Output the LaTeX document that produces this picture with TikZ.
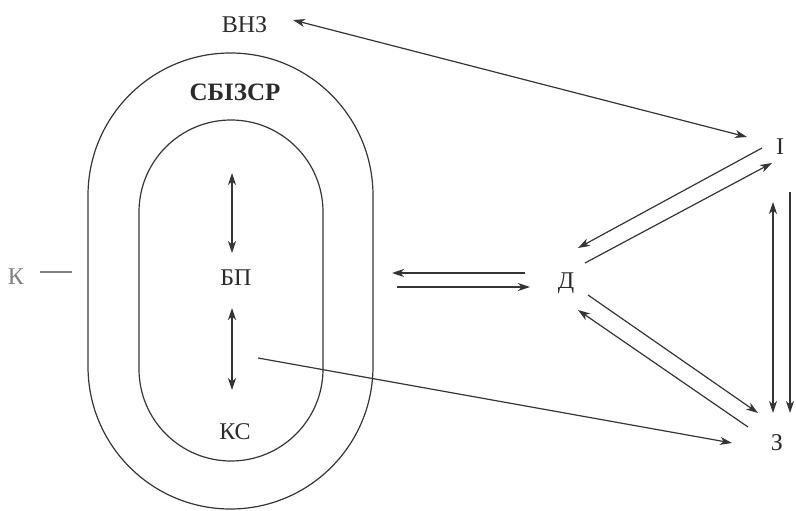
\documentclass[tikz,border=0pt]{standalone}
\usepackage{fontspec}
\setmainfont{Liberation Serif}
\usetikzlibrary{arrows.meta,calc}
\definecolor{ink}{HTML}{353535}
\definecolor{txt}{HTML}{2A2A2A}
\tikzset{
  lbl/.style={font=\fontsize{24}{24}\selectfont, text=txt, inner sep=0pt, text height=15.5pt, text depth=0pt, anchor=center},
  boldlbl/.style={lbl, font=\fontsize{25}{25}\selectfont\bfseries, text height=16.5pt},
  ln/.style={draw=ink, line width=1.2pt},
  tip/.style={ln, -{Stealth[length=12pt,width=8pt,inset=3.5pt]}},
  tips/.style={ln, {Stealth[length=12pt,width=8pt,inset=3.5pt]}-{Stealth[length=12pt,width=8pt,inset=3.5pt]}}
}
\begin{document}
\begin{tikzpicture}[x=1pt,y=-1pt]
\useasboundingbox (0,0) rectangle (796,511);
% ovals
\draw[ln, rounded corners=142.5pt] (88,53) rectangle (373,509);
\draw[ln, rounded corners=92pt] (139,120) rectangle (323,461);
% labels
\node[lbl] (vnz) at (244.5,24.5) {ВНЗ};
\node[boldlbl] (sb) at (235,92) {СБІЗСР};
\node[lbl] (bp) at (236,278) {БП};
\node[lbl] (ks) at (235,432) {КС};
\node[lbl, text=gray] (k) at (16,277) {К};
\node[lbl] (d) at (566,281) {Д};
\node[lbl] (i) at (780,147) {І};
\node[lbl] (z) at (777,443) {З};
% connectors
\draw[tips] ($(vnz)+(48.5,-4.5)$) -- ($(i)+(-33,-10)$);
\draw[tip] ($(i)+(-18,1)$) -- ($(d)+(12,-33)$);
\draw[tip] ($(d)+(19,-18)$) -- ($(i)+(-8,16)$);
\draw[tip] ($(d)+(22,14)$) -- ($(z)+(-19,-30)$);
\draw[tip] ($(z)+(-29,-16)$) -- ($(d)+(12,29)$);
\draw[tip] ($(bp)+(22,80)$) -- ($(z)+(-45,0)$);
\draw[tip] ($(d)+(-41,-8)$) -- ($(d)+(-174,-8)$);
\draw[tip] ($(d)+(-169,6)$) -- ($(d)+(-36,6)$);
\draw[tips] ($(i)+(-7,55)$) -- ($(z)+(-4,-30)$);
\draw[tip] ($(i)+(10,45)$) -- ($(z)+(13,-30)$);
\draw[tips] ($(bp)+(-4,-105)$) -- ($(bp)+(-4,-25)$);
\draw[tips] ($(bp)+(-4,30)$) -- ($(bp)+(-4,112)$);
\draw[ln, draw=gray] ($(k)+(24,-5)$) -- ($(k)+(56,-5)$);
\end{tikzpicture}
\end{document}
